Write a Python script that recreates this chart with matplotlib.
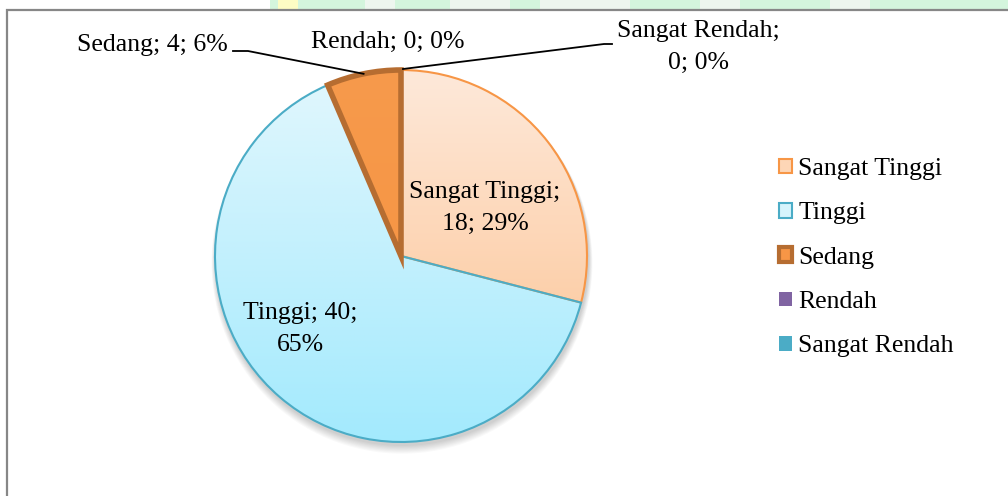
import numpy as np
import matplotlib
matplotlib.use("Agg")
import matplotlib.pyplot as plt
from matplotlib.patches import Patch, Rectangle, Circle
from matplotlib.colors import to_rgb

# data
categories = ["Sangat Tinggi", "Tinggi", "Sedang", "Rendah", "Sangat Rendah"]
counts = [18, 40, 4, 0, 0]
percents = ["29%", "65%", "6%", "0%", "0%"]

plt.rcParams["font.family"] = ["Liberation Serif", "DejaVu Serif"]
FS = 18.5
LS = 1.55

fig = plt.figure(figsize=(10.08, 4.96), dpi=100)
ax = fig.add_axes([0, 0, 1, 1])

# faint page background above the chart frame
ax.add_patch(Rectangle((270, 486), 738, 10, facecolor="#d4f5dd", edgecolor="none", zorder=0))
ax.add_patch(Rectangle((278, 486), 20, 10, facecolor="#fdfcc4", edgecolor="none", zorder=0))
for x0, w in [(365, 30), (450, 60), (540, 90), (700, 40), (830, 40)]:
    ax.add_patch(Rectangle((x0, 486), w, 10, facecolor="#eef6ef", edgecolor="none", zorder=0))
# chart frame
ax.add_patch(Rectangle((7, -20), 1100, 506, facecolor="white", edgecolor="#878787", lw=1.6, zorder=1))

cx, cy, R = 401, 240, 186

# soft shadow
for k in range(8):
    ax.add_patch(Circle((cx + 1, cy - 3 - k * 0.6), R + 1 + k * 0.5, facecolor="black",
                        edgecolor="none", alpha=0.025, zorder=2))
ax.add_patch(Circle((cx, cy), R, facecolor="white", edgecolor="none", zorder=2.5))

edges = ["#f79646", "#4bacc6", "#b66d31", "#8064a2", "#4bacc6"]
widths = [1.5, 1.5, 4.0, 1.0, 1.0]
wedges, _ = ax.pie(counts, startangle=90, counterclock=False, center=(cx, cy), radius=R,
                   frame=True, wedgeprops=dict(facecolor="none"))

grads = [("#fee9da", "#fcc08d"), ("#e2f7fd", "#a3eafd"), ("#f79a4c", "#f6923f")]


def gradient(top, bottom):
    t = np.linspace(0, 1, 256)[:, None]
    c0 = np.array(to_rgb(bottom))
    c1 = np.array(to_rgb(top))
    img = c0 + (c1 - c0) * t[..., None]
    return np.repeat(img, 2, axis=1)


for i, w in enumerate(wedges):
    w.set_edgecolor(edges[i])
    w.set_linewidth(widths[i])
    w.set_zorder(4 + (1 if i == 2 else 0))
    if i < len(grads) and counts[i] > 0:
        im = ax.imshow(gradient(*grads[i]), extent=[cx - R, cx + R, cy - R, cy + R],
                       origin="lower", aspect="auto", zorder=3, interpolation="bilinear")
        im.set_clip_path(w)
    if counts[i] == 0:
        w.set_visible(False)

ax.set_xlim(0, 1008)
ax.set_ylim(0, 496)
ax.axis("off")


def arc_point(w, r=R):
    ang = np.deg2rad((w.theta1 + w.theta2) / 2)
    return cx + r * np.cos(ang), cy + r * np.sin(ang)


lab = [f"{c}; {n}; {p}" for c, n, p in zip(categories, counts, percents)]

ax.text(485, 496 - 208, f"{categories[0]};\n{counts[0]}; {percents[0]}", ha="center", va="center",
        fontsize=FS, linespacing=LS, zorder=6)
ax.text(300, 496 - 329, f"{categories[1]}; {counts[1]};\n{percents[1]}", ha="center", va="center",
        fontsize=FS, linespacing=LS, zorder=6)
ax.text(228, 496 - 45, lab[2], ha="right", va="center", fontsize=FS, zorder=6)
ax.text(388, 496 - 42, lab[3], ha="center", va="center", fontsize=FS, zorder=6)
ax.text(698, 496 - 47, f"{categories[4]};\n{counts[4]}; {percents[4]}", ha="center", va="center",
        fontsize=FS, linespacing=LS, zorder=6)

# leader lines
px, py = arc_point(wedges[2])
ax.plot([233, 248, px], [496 - 51, 496 - 51, py], color="black", lw=1.3, zorder=6)
px, py = arc_point(wedges[4])
ax.plot([px + 2, 604, 612], [py + 1, 496 - 44, 496 - 44], color="black", lw=1.3, zorder=6)

handles = [
    Patch(facecolor="#fdd6b6", edgecolor="#f79646", lw=1.5),
    Patch(facecolor="#d6f4fc", edgecolor="#4bacc6", lw=1.5),
    Patch(facecolor="#f79646", edgecolor="#b66d31", lw=3.0),
    Patch(facecolor="#8064a2", edgecolor="none"),
    Patch(facecolor="#4bacc6", edgecolor="none"),
]
fig.legend(handles, categories, loc="upper left", bbox_to_anchor=(779 / 1008, 1 - 158 / 496),
           frameon=False, fontsize=FS, handlelength=0.5, handleheight=0.5, handletextpad=0.25,
           labelspacing=0.87, borderpad=0, borderaxespad=0)

fig.savefig("out.png", dpi=100)
